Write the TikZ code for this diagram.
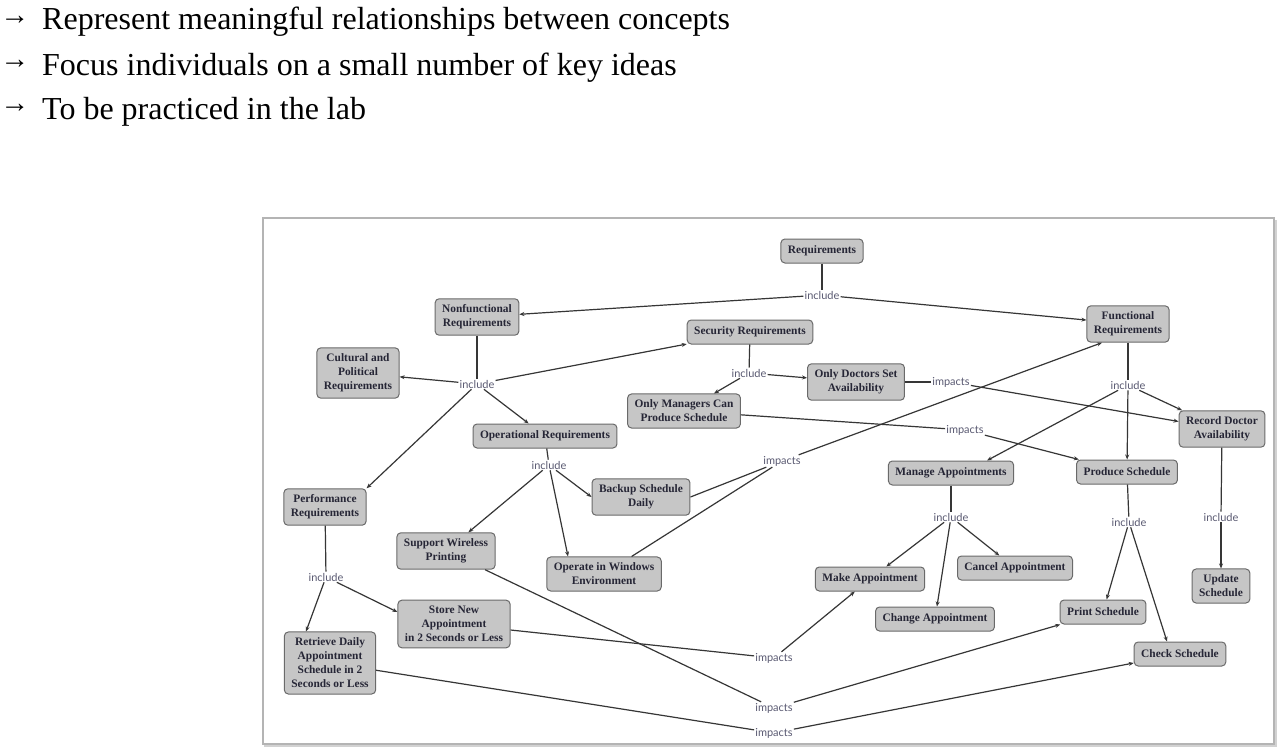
\documentclass[tikz,border=0pt]{standalone}
\usepackage{fontspec}
\setmainfont{Liberation Serif}
\newfontfamily\linkfont{Lato}
\usetikzlibrary{arrows.meta}
\definecolor{boxgray}{HTML}{C6C6C6}
\definecolor{boxedge}{HTML}{6A6A6A}
\definecolor{linkgray}{HTML}{363636}
\definecolor{wordgray}{HTML}{5A5A72}
\definecolor{inkblue}{HTML}{262636}
\definecolor{framegray}{HTML}{B4B4B4}

\begin{document}
\begin{tikzpicture}[x=1pt,y=-1pt,
    concept/.style={draw=boxedge, fill=boxgray, rounded corners=4pt, line width=1pt, align=center, text=inkblue,
      font=\bfseries\fontsize{11.4}{14}\selectfont, inner xsep=7pt, inner ysep=6pt, minimum height=24pt},
    link/.style={fill=white, inner sep=1pt, text=wordgray, font=\linkfont\fontsize{11}{13}\selectfont},
    tie/.style={draw=linkgray, line width=1.2pt},
    arr/.style={tie, -{Stealth[length=5pt,width=4pt]}},
    point/.style={anchor=base west, inner sep=0pt, font=\fontsize{32}{38}\selectfont},
    pointmark/.style={inner sep=0pt, font=\fontsize{29}{32}\selectfont}]
  \useasboundingbox (0,0) rectangle (1283,752);
  \fill[white] (0,0) rectangle (1283,752);

  \node[pointmark] (mark1) at (15,20) {→};
  \node[pointmark] (mark2) at (15,64) {→};
  \node[pointmark] (mark3) at (15,108) {→};
  \node[point] (item1) at (42,30) {Represent meaningful relationships between concepts};
  \node[point] (item2) at (42,75) {Focus individuals on a small number of key ideas};
  \node[point] (item3) at (42,119) {To be practiced in the lab};

  \draw[framegray!60, line width=2pt] (265,221) rectangle (1276,746);
  \draw[framegray, line width=1.2pt, fill=white] (263,218) rectangle (1274,744);

  \node[concept] (req) at (822,251) {Requirements};
  \node[link] (increq) at (822,295) {include};
  \node[concept] (nonfunc) at (477,317) {Nonfunctional\\Requirements};
  \node[concept] (func) at (1128,324) {Functional\\Requirements};
  \node[concept] (secur) at (750,332) {Security Requirements};
  \node[concept] (cultural) at (358,373) {Cultural and\\Political\\Requirements};
  \node[link] (incnon) at (477,384) {include};
  \node[link] (incsec) at (749,373) {include};
  \node[concept] (doctors) at (856,382) {Only Doctors Set\\Availability};
  \node[link] (impdoc) at (951,382) {impacts};
  \node[concept] (managers) at (684,411) {Only Managers Can\\Produce Schedule};
  \node[link] (impman) at (965,430) {impacts};
  \node[concept] (operat) at (545,436) {Operational Requirements};
  \node[link] (incop) at (549,465) {include};
  \node[concept] (backup) at (641,497) {Backup Schedule\\Daily};
  \node[link] (impop) at (782,461) {impacts};
  \node[link] (incfunc) at (1128,385) {include};
  \node[concept] (record) at (1222,429) {Record Doctor\\Availability};
  \node[concept] (manage) at (951,473) {Manage Appointments};
  \node[concept] (produce) at (1127,472) {Produce Schedule};
  \node[concept] (perform) at (325,507) {Performance\\Requirements};
  \node[concept] (wireless) at (446,551) {Support Wireless\\Printing};
  \node[concept] (windows) at (604,574) {Operate in Windows\\Environment};
  \node[link] (incman) at (951,517) {include};
  \node[link] (incprod) at (1129,522) {include};
  \node[link] (increc) at (1221,517) {include};
  \node[concept] (make) at (870,579) {Make Appointment};
  \node[concept] (cancel) at (1015,568) {Cancel Appointment};
  \node[concept] (change) at (935,619) {Change Appointment};
  \node[concept] (update) at (1221,586) {Update\\Schedule};
  \node[concept] (print) at (1103,612) {Print Schedule};
  \node[concept] (check) at (1180,654) {Check Schedule};
  \node[link] (incperf) at (326,577) {include};
  \node[concept] (store) at (454,624) {Store New\\Appointment\\in 2 Seconds or Less};
  \node[concept] (retrieve) at (330,663) {Retrieve Daily\\Appointment\\Schedule in 2\\Seconds or Less};
  \node[link] (impstore) at (774,658) {impacts};
  \node[link] (impwire) at (774,708) {impacts};
  \node[link] (impretr) at (774,733) {impacts};

  \draw[tie] (req) -- (increq);
  \draw[arr] (increq) -- (nonfunc);
  \draw[arr] (increq) -- (func);
  \draw[tie] (nonfunc) -- (incnon);
  \draw[arr] (incnon) -- (cultural);
  \draw[arr] (incnon) -- (secur);
  \draw[arr] (incnon) -- (operat);
  \draw[arr] (incnon) -- (perform.north east);
  \draw[tie] (secur) -- (incsec);
  \draw[arr] (incsec) -- (doctors);
  \draw[arr] (incsec) -- (managers);
  \draw[tie] (doctors) -- (impdoc);
  \draw[arr] (impdoc) -- (record);
  \draw[tie] (managers) -- (impman);
  \draw[arr] (impman) -- (produce);
  \draw[tie] (operat) -- (incop);
  \draw[arr] (incop) -- (wireless);
  \draw[arr] (incop) -- ([xshift=-36pt]windows.north);
  \draw[arr] (incop) -- (backup.west);
  \draw[tie] (backup.east) -- (impop);
  \draw[tie] (windows) -- (impop);
  \draw[arr] (impop) -- ([xshift=-26pt]func.south);
  \draw[tie] (func) -- (incfunc);
  \draw[arr] (incfunc) -- ([xshift=36pt]manage.north);
  \draw[arr] (incfunc) -- (produce);
  \draw[arr] (incfunc) -- (record);
  \draw[tie] (manage) -- (incman);
  \draw[arr] (incman) -- (make);
  \draw[arr] (incman) -- (change);
  \draw[arr] (incman) -- (cancel);
  \draw[tie] (produce) -- (incprod);
  \draw[arr] (incprod) -- (print);
  \draw[arr] (incprod) -- ([xshift=-13pt]check.north);
  \draw[tie] (record) -- (increc);
  \draw[arr] (increc) -- (update);
  \draw[tie] (perform) -- (incperf);
  \draw[arr] (incperf) -- ([xshift=-24pt]retrieve.north);
  \draw[arr] (incperf) -- ([yshift=12pt]store.west);
  \draw[tie] (store) -- (impstore);
  \draw[arr] (impstore) -- (make);
  \draw[tie] (wireless) -- (impwire);
  \draw[arr] (impwire) -- (print);
  \draw[tie] (retrieve) -- (impretr);
  \draw[arr] (impretr) -- (check);
\end{tikzpicture}
\end{document}
